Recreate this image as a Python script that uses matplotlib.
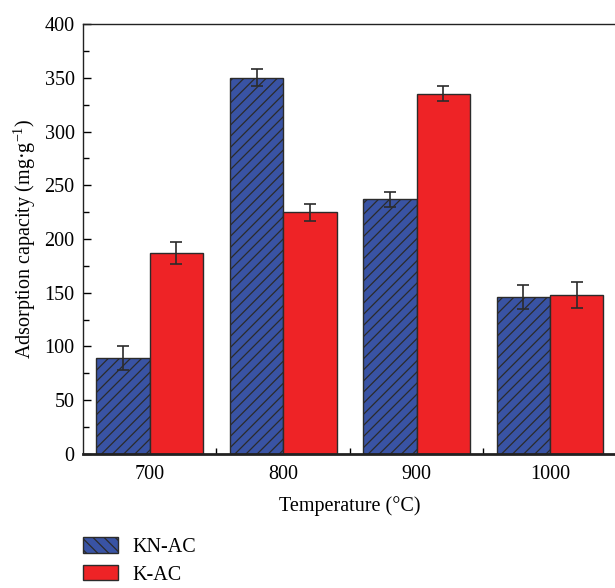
import numpy as np
import matplotlib
matplotlib.use('Agg')
import matplotlib.pyplot as plt
from matplotlib.patches import Patch
from matplotlib.ticker import MultipleLocator, FixedLocator

plt.rcParams['font.family'] = ['Liberation Serif', 'DejaVu Serif']
plt.rcParams['hatch.linewidth'] = 0.9
plt.rcParams['hatch.color'] = '#1a1a2a'

temps = ['700', '800', '900', '1000']
kn_ac = [89, 350, 237, 146]
kn_err = [11, 8, 7, 11]
k_ac = [187, 225, 335, 148]
k_err = [10, 8, 7, 12]

blue = '#3953A4'
red = '#EE2326'
edge = '#2b2b2b'
fs = 14.5

fig = plt.figure(figsize=(6.15, 5.88), dpi=100)
ax = fig.add_axes([0.135, 0.228, 0.868, 0.731])

x = np.arange(len(temps))
w = 0.4
ax.bar(x - w/2, kn_ac, w, color=blue, edgecolor=edge, linewidth=1.0, hatch='///',
       yerr=kn_err, error_kw=dict(ecolor=edge, elinewidth=1.2, capsize=4, capthick=1.2))
ax.bar(x + w/2, k_ac, w, color=red, edgecolor=edge, linewidth=1.0,
       yerr=k_err, error_kw=dict(ecolor=edge, elinewidth=1.2, capsize=4, capthick=1.2))

ax.set_xlim(-0.5, 3.5)
ax.set_ylim(0, 400)
ax.set_xticks(x)
ax.set_xticklabels(temps)
ax.xaxis.set_minor_locator(FixedLocator([0.5, 1.5, 2.5]))
ax.yaxis.set_major_locator(MultipleLocator(50))
ax.yaxis.set_minor_locator(MultipleLocator(25))
ax.tick_params(axis='x', which='major', length=0, labelsize=fs, pad=8)
ax.tick_params(axis='x', which='minor', direction='in', length=4, width=1)
ax.tick_params(axis='y', which='major', direction='in', length=6, width=1, labelsize=fs, pad=6)
ax.tick_params(axis='y', which='minor', direction='in', length=4, width=1)

ax.spines['right'].set_visible(False)
ax.spines['left'].set_linewidth(1.0)
ax.spines['top'].set_linewidth(1.0)
ax.spines['bottom'].set_linewidth(2.0)
for s in ax.spines.values():
    s.set_color('#222222')

ax.set_xlabel('Temperature (°C)', fontsize=fs, labelpad=9)
ax.set_ylabel('Adsorption capacity (mg·g$^{\\mathregular{-1}}$)', fontsize=fs, labelpad=5)

handles = [Patch(facecolor=blue, edgecolor=edge, hatch='\\\\\\', label='KN-AC'),
           Patch(facecolor=red, edgecolor=edge, label='K-AC')]
fig.legend(handles=handles, loc='lower left', bbox_to_anchor=(0.105, -0.025), frameon=False,
           fontsize=fs, handlelength=1.75, handleheight=0.8, labelspacing=0.4, handletextpad=0.7)

fig.savefig('out.png', dpi=100)
